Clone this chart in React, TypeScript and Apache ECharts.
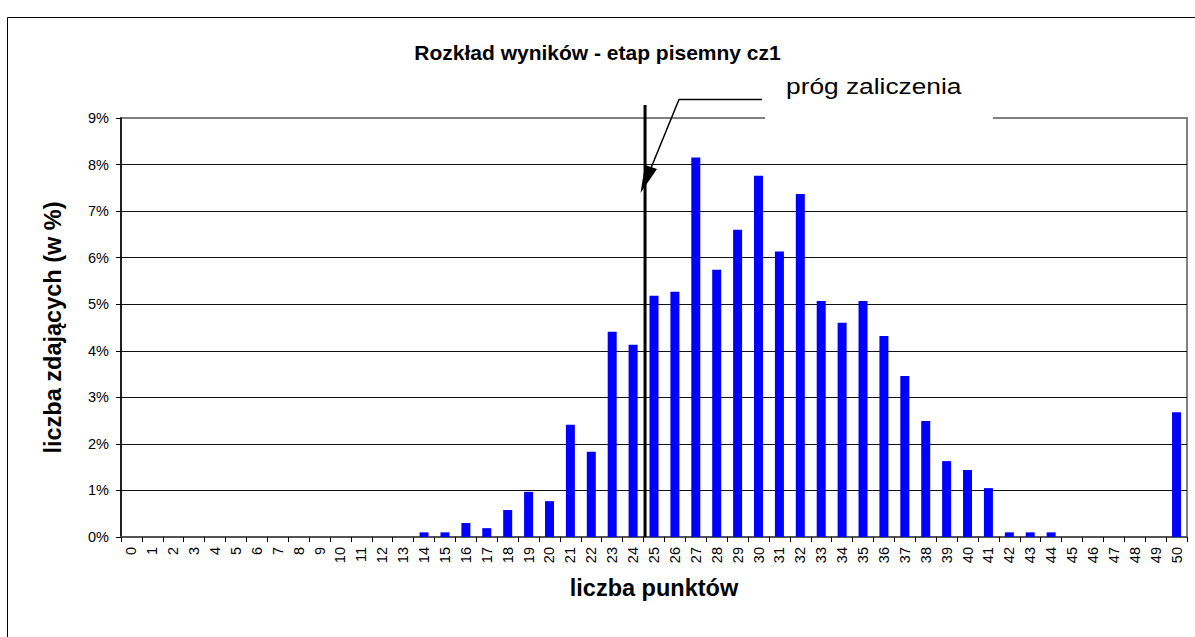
import React, { useEffect, useRef } from "react";
import * as echarts from "echarts";

const categories = [
  "0", "1", "2", "3", "4", "5", "6", "7", "8", "9",
  "10", "11", "12", "13", "14", "15", "16", "17", "18", "19",
  "20", "21", "22", "23", "24", "25", "26", "27", "28", "29",
  "30", "31", "32", "33", "34", "35", "36", "37", "38", "39",
  "40", "41", "42", "43", "44", "45", "46", "47", "48", "49", "50",
];

const percentValues = [
  0, 0, 0, 0, 0, 0, 0, 0, 0, 0,
  0, 0, 0, 0, 0.1, 0.1, 0.3, 0.19, 0.58, 0.97,
  0.77, 2.41, 1.83, 4.41, 4.13, 5.18, 5.27, 8.15, 5.74, 6.6,
  7.76, 6.13, 7.37, 5.07, 4.6, 5.07, 4.32, 3.46, 2.49, 1.63,
  1.44, 1.05, 0.1, 0.1, 0.1, 0, 0, 0, 0, 0, 2.68,
];

const titleText = "Rozkład wyników - etap pisemny cz1";
const xAxisTitle = "liczba punktów";
const yAxisTitle = "liczba zdających (w %)";
const annotationText = "próg zaliczenia";
const thresholdBetween = ["24", "25"];

const FONT = "'Liberation Sans', Arial, sans-serif";

export default function App() {
  const ref = useRef<HTMLDivElement>(null);

  useEffect(() => {
    document.body.style.margin = "0";
    if (!ref.current) return;
    const chart = echarts.init(ref.current, null, { renderer: "svg" });
    chart.setOption({
      animation: false,
      backgroundColor: "#ffffff",
      title: {
        text: titleText,
        left: "center",
        top: 37,
        textStyle: { fontSize: 21, fontWeight: "bold", fontFamily: FONT, color: "#000" },
      },
      grid: {
        left: 121,
        top: 118,
        right: 8,
        bottom: 100,
        show: true,
        borderColor: "#808080",
        borderWidth: 2,
        backgroundColor: "transparent",
      },
      xAxis: {
        type: "category",
        data: categories,
        axisLine: { show: true, lineStyle: { color: "#555", width: 2 } },
        axisTick: { show: true, length: 5, lineStyle: { color: "#000", width: 1 } },
        axisLabel: {
          rotate: 90,
          interval: 0,
          fontSize: 14.5,
          fontFamily: FONT,
          color: "#000",
          margin: 10,
        },
        splitLine: { show: false },
        name: xAxisTitle,
        nameLocation: "middle",
        nameGap: 39,
        nameTextStyle: { fontSize: 23.5, fontWeight: "bold", fontFamily: FONT, color: "#000" },
      },
      yAxis: {
        type: "value",
        min: 0,
        max: 9,
        interval: 1,
        axisLine: { show: true, lineStyle: { color: "#000", width: 1.5 } },
        axisTick: { show: true, length: 5, lineStyle: { color: "#000", width: 1 } },
        axisLabel: {
          formatter: "{value}%",
          fontSize: 14.5,
          fontFamily: FONT,
          color: "#000",
          margin: 12,
        },
        splitLine: { show: true, showMaxLine: false, lineStyle: { color: "#111", width: 1 } },
        name: yAxisTitle,
        nameLocation: "middle",
        nameGap: 56,
        nameRotate: 90,
        nameTextStyle: { fontSize: 23.5, fontWeight: "bold", fontFamily: FONT, color: "#000" },
      },
      series: [
        {
          type: "bar",
          data: percentValues,
          barWidth: 9,
          itemStyle: { color: "#0000ff" },
        },
      ],
    });

    const xa = chart.convertToPixel({ xAxisIndex: 0 }, categories.indexOf(thresholdBetween[0])) as number;
    const xb = chart.convertToPixel({ xAxisIndex: 0 }, categories.indexOf(thresholdBetween[1])) as number;
    const xThr = (xa + xb) / 2 + 1.5;
    const yBottom = chart.convertToPixel({ yAxisIndex: 0 }, 0) as number;
    const yTop = chart.convertToPixel({ yAxisIndex: 0 }, 9.28) as number;

    chart.setOption({
      graphic: [
        {
          type: "rect",
          silent: true,
          z: 1,
          shape: { x: 7.5, y: 17.5, width: 1400, height: 800 },
          style: { fill: "none", stroke: "#000", lineWidth: 1 },
        },
        {
          type: "rect",
          silent: true,
          z: 50,
          shape: { x: 765, y: 64, width: 228, height: 58 },
          style: { fill: "#ffffff" },
        },
        {
          type: "text",
          silent: true,
          z: 60,
          x: 786,
          y: 86,
          scaleX: 1.17,
          style: {
            text: annotationText,
            fontSize: 22.5,
            fontFamily: FONT,
            fill: "#000",
            align: "left",
            verticalAlign: "middle",
          },
        },
        {
          type: "line",
          silent: true,
          z: 60,
          shape: { x1: xThr, y1: yTop, x2: xThr, y2: yBottom },
          style: { stroke: "#000", lineWidth: 3 },
        },
        {
          type: "polyline",
          silent: true,
          z: 60,
          shape: { points: [[762, 99.5], [679, 99.5], [651, 168]] },
          style: { stroke: "#000", lineWidth: 1.5, fill: "none" },
        },
        {
          type: "polygon",
          silent: true,
          z: 61,
          shape: { points: [[640.5, 193], [645, 165], [657, 169]] },
          style: { fill: "#000" },
        },
      ],
    });

    return () => {
      chart.dispose();
    };
  }, []);

  return <div ref={ref} style={{ width: 1195, height: 637 }} />;
}
